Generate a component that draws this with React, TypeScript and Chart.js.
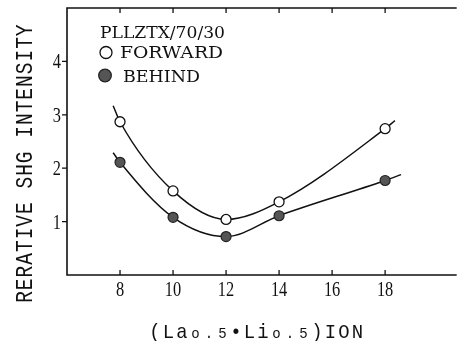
import React, { useEffect, useRef } from "react";
import { Chart, registerables } from "chart.js";

Chart.register(...registerables);

const X_TICKS = [8, 10, 12, 14, 16, 18];
const Y_TICKS = [1, 2, 3, 4];
const CONC = [8, 10, 12, 14, 18];
const FORWARD = [2.87, 1.575, 1.04, 1.37, 2.74];
const BEHIND = [2.11, 1.08, 0.72, 1.11, 1.77];
const FORWARD_FIT_X = [7.74, 8, 10, 12, 14, 18, 18.37];
const FORWARD_FIT_Y = [3.17, 2.87, 1.575, 1.04, 1.37, 2.74, 2.89];
const BEHIND_FIT_X = [7.74, 8, 10, 12, 14, 18, 18.6];
const BEHIND_FIT_Y = [2.29, 2.11, 1.08, 0.72, 1.11, 1.77, 1.88];
const LEGEND_TITLE = "PLLZTX/70/30";
const SERIES_NAMES = ["FORWARD", "BEHIND"];
const Y_TITLE = "RERATIVE SHG INTENSITY";
const X_TITLE: { t: string; sub: boolean }[] = [
  { t: "(", sub: false }, { t: "L", sub: false }, { t: "a", sub: false },
  { t: "o", sub: true }, { t: ".", sub: true }, { t: "5", sub: true },
  { t: "•", sub: false }, { t: "L", sub: false }, { t: "i", sub: false },
  { t: "o", sub: true }, { t: ".", sub: true }, { t: "5", sub: true },
  { t: ")", sub: false }, { t: "I", sub: false }, { t: "O", sub: false }, { t: "N", sub: false },
];

const pts = (xs: number[], ys: number[]) => xs.map((x, i) => ({ x, y: ys[i] }));

function fitText(ctx: CanvasRenderingContext2D, text: string, x: number, y: number, font: string, sx: number, align: CanvasTextAlign) {
  ctx.save();
  ctx.font = font;
  ctx.translate(x, y);
  ctx.scale(sx, 1);
  ctx.textAlign = align;
  ctx.textBaseline = "alphabetic";
  ctx.fillText(text, 0, 0);
  ctx.restore();
}

function fitWidth(ctx: CanvasRenderingContext2D, text: string, x: number, y: number, font: string, w: number) {
  ctx.save();
  ctx.font = font;
  const m = ctx.measureText(text).width;
  ctx.restore();
  fitText(ctx, text, x, y, font, w / m, "left");
}

const decor = {
  id: "decor",
  afterDraw(chart: any) {
    const ctx: CanvasRenderingContext2D = chart.ctx;
    const { left, right, top, bottom } = chart.chartArea;
    const xs = chart.scales.x;
    const ys = chart.scales.y;
    ctx.save();
    ctx.strokeStyle = "#111";
    ctx.fillStyle = "#111";
    ctx.lineWidth = 1.6;
    ctx.beginPath();
    ctx.moveTo(right, top);
    ctx.lineTo(left, top);
    ctx.lineTo(left, bottom);
    ctx.lineTo(right, bottom);
    ctx.stroke();
    ctx.lineWidth = 1.3;
    ctx.beginPath();
    X_TICKS.forEach((v) => {
      const px = xs.getPixelForValue(v);
      ctx.moveTo(px, bottom);
      ctx.lineTo(px, bottom - 5);
      ctx.moveTo(px, top);
      ctx.lineTo(px, top + 5);
    });
    Y_TICKS.forEach((v) => {
      const py = ys.getPixelForValue(v);
      ctx.moveTo(left, py);
      ctx.lineTo(left - 5, py);
    });
    ctx.stroke();
    // tick labels
    X_TICKS.forEach((v) => {
      fitText(ctx, String(v), xs.getPixelForValue(v), bottom + 21, "21px 'Liberation Serif'", 0.78, "center");
    });
    Y_TICKS.forEach((v) => {
      fitText(ctx, String(v), left - 6, ys.getPixelForValue(v) + 7, "21px 'Liberation Serif'", 0.78, "right");
    });
    // legend
    fitWidth(ctx, LEGEND_TITLE, 100, 38, "16px 'DejaVu Serif'", 125);
    fitWidth(ctx, SERIES_NAMES[0], 120, 58, "16px 'DejaVu Serif'", 103);
    fitWidth(ctx, SERIES_NAMES[1], 123, 82, "16px 'DejaVu Serif'", 77);
    ctx.lineWidth = 1.3;
    ctx.beginPath();
    ctx.arc(106, 52.5, 6, 0, Math.PI * 2);
    ctx.fillStyle = "#fff";
    ctx.fill();
    ctx.stroke();
    ctx.beginPath();
    ctx.arc(105, 75.5, 6.3, 0, Math.PI * 2);
    ctx.fillStyle = "#555";
    ctx.fill();
    ctx.strokeStyle = "#222";
    ctx.stroke();
    // y title
    ctx.fillStyle = "#111";
    ctx.font = "23px 'Liberation Mono'";
    ctx.textAlign = "center";
    ctx.textBaseline = "alphabetic";
    for (let i = 0; i < Y_TITLE.length; i++) {
      ctx.save();
      ctx.translate(32, 297 - i * 12.7);
      ctx.rotate(-Math.PI / 2);
      ctx.scale(0.85, 1);
      ctx.fillText(Y_TITLE[i], 0, 0);
      ctx.restore();
    }
    // x title
    X_TITLE.forEach((c, k) => {
      ctx.save();
      ctx.font = c.sub ? "14px 'Liberation Mono'" : "21px 'Liberation Mono'";
      ctx.translate(155 + k * 13.5, 338);
      ctx.scale(c.sub ? 1 : 0.9, 1);
      ctx.fillText(c.t, 0, 0);
      ctx.restore();
    });
    ctx.restore();
  },
};

export default function App() {
  const ref = useRef<HTMLCanvasElement>(null);
  useEffect(() => {
    const canvas = ref.current!;
    const chart = new Chart(canvas, {
      type: "scatter",
      data: {
        datasets: [
          {
            label: SERIES_NAMES[0],
            data: pts(CONC, FORWARD),
            pointRadius: 5,
            pointBackgroundColor: "#fff",
            pointBorderColor: "#111",
            pointBorderWidth: 1.3,
            order: 0,
          },
          {
            label: SERIES_NAMES[1],
            data: pts(CONC, BEHIND),
            pointRadius: 5,
            pointBackgroundColor: "#555",
            pointBorderColor: "#222",
            pointBorderWidth: 1.2,
            order: 0,
          },
          {
            label: "fit1",
            data: pts(FORWARD_FIT_X, FORWARD_FIT_Y),
            showLine: true,
            pointRadius: 0,
            borderColor: "#111",
            borderWidth: 1.5,
            cubicInterpolationMode: "monotone",
            order: 1,
          },
          {
            label: "fit2",
            data: pts(BEHIND_FIT_X, BEHIND_FIT_Y),
            showLine: true,
            pointRadius: 0,
            borderColor: "#111",
            borderWidth: 1.5,
            cubicInterpolationMode: "monotone",
            order: 1,
          },
        ],
      },
      options: {
        animation: false,
        responsive: false,
        devicePixelRatio: 1,
        layout: { padding: { left: 0, right: 1, top: 8, bottom: 0 } },
        plugins: { legend: { display: false }, tooltip: { enabled: false } },
        scales: {
          x: {
            type: "linear",
            min: 6,
            max: 20.7,
            grid: { display: false },
            border: { display: false },
            ticks: { display: false },
            afterFit: (s: any) => { s.height = 66; },
          },
          y: {
            type: "linear",
            min: 0,
            max: 5,
            grid: { display: false },
            border: { display: false },
            ticks: { display: false },
            afterFit: (s: any) => { s.width = 67; },
          },
        },
      },
      plugins: [decor],
    } as any);
    return () => chart.destroy();
  }, []);
  return (
    <div style={{ position: "absolute", left: 0, top: 0, width: 463, height: 341, background: "#fff" }}>
      <canvas ref={ref} width={463} height={341} style={{ width: 463, height: 341 }} />
    </div>
  );
}
